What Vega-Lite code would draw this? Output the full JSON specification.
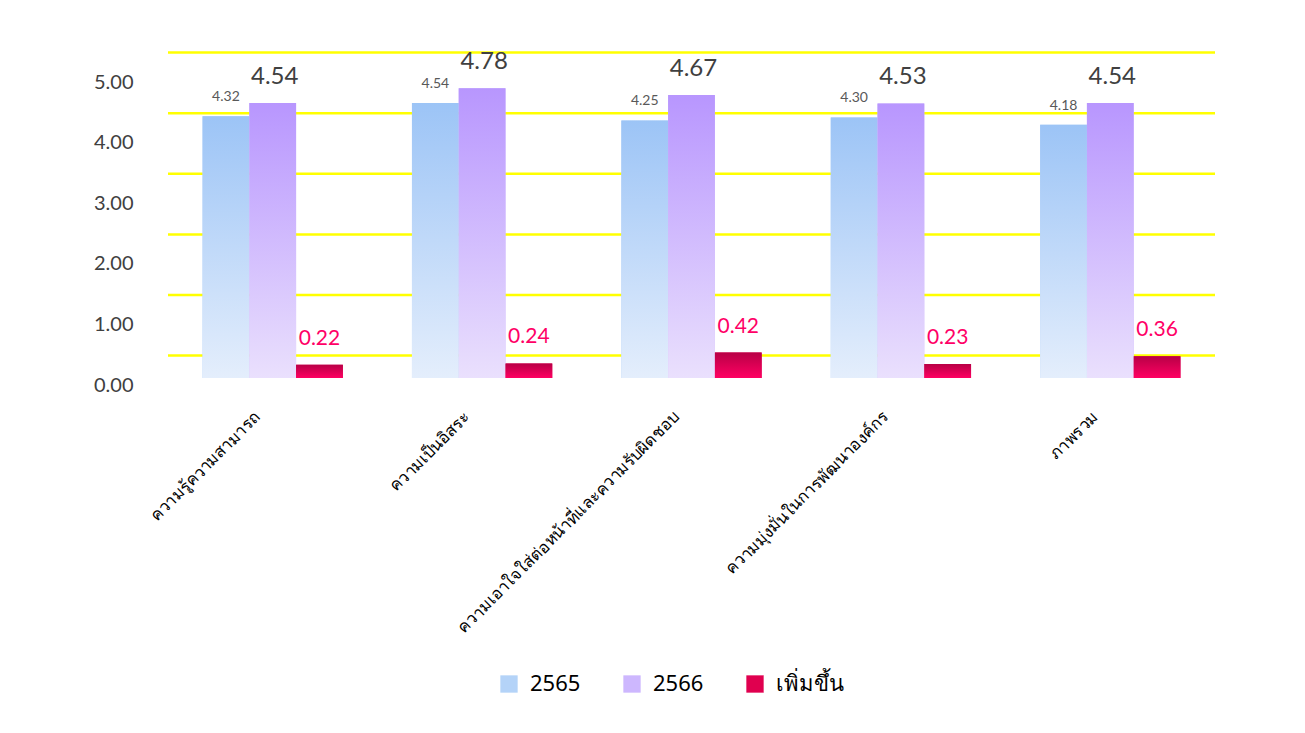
{
  "$schema": "https://vega.github.io/schema/vega-lite/v6.json",
  "autosize": {"type": "none"},
  "width": 1047,
  "height": 303,
  "padding": {"left": 168, "top": 75, "right": 90, "bottom": 355},
  "background": "white",
  "config": {
    "view": {"stroke": null},
    "font": "Lato"
  },
  "datasets": {
    "scores": [
      {"cat": "ความรู้ความสามารถ", "series": "2565", "value": 4.32},
      {"cat": "ความรู้ความสามารถ", "series": "2566", "value": 4.54},
      {"cat": "ความรู้ความสามารถ", "series": "เพิ่มขึ้น", "value": 0.22},
      {"cat": "ความเป็นอิสระ", "series": "2565", "value": 4.54},
      {"cat": "ความเป็นอิสระ", "series": "2566", "value": 4.78},
      {"cat": "ความเป็นอิสระ", "series": "เพิ่มขึ้น", "value": 0.24},
      {"cat": "ความเอาใจใส่ต่อหน้าที่และความรับผิดชอบ", "series": "2565", "value": 4.25},
      {"cat": "ความเอาใจใส่ต่อหน้าที่และความรับผิดชอบ", "series": "2566", "value": 4.67},
      {"cat": "ความเอาใจใส่ต่อหน้าที่และความรับผิดชอบ", "series": "เพิ่มขึ้น", "value": 0.42},
      {"cat": "ความมุ่งมั่นในการพัฒนาองค์กร", "series": "2565", "value": 4.30},
      {"cat": "ความมุ่งมั่นในการพัฒนาองค์กร", "series": "2566", "value": 4.53},
      {"cat": "ความมุ่งมั่นในการพัฒนาองค์กร", "series": "เพิ่มขึ้น", "value": 0.23},
      {"cat": "ภาพรวม", "series": "2565", "value": 4.18},
      {"cat": "ภาพรวม", "series": "2566", "value": 4.54},
      {"cat": "ภาพรวม", "series": "เพิ่มขึ้น", "value": 0.36}
    ],
    "grid": [
      {"level": 0}, {"level": 1}, {"level": 2}, {"level": 3}, {"level": 4}, {"level": 5}
    ]
  },
  "layer": [
    {
      "data": {"name": "grid"},
      "mark": {"type": "rule", "color": "#FFFF00", "strokeWidth": 2.5},
      "encoding": {
        "y": {
          "field": "level", "type": "quantitative",
          "scale": {"domain": [-0.37, 4.63], "nice": false, "zero": false},
          "axis": null
        }
      }
    },
    {
      "data": {"name": "scores"},
      "encoding": {
        "x": {
          "field": "cat", "type": "nominal", "sort": null,
          "scale": {"paddingInner": 0.33, "paddingOuter": 0.165},
          "axis": {
            "title": null, "labelAngle": -45, "labelAlign": "right", "labelBaseline": "middle",
            "labelPadding": 36, "labelOffset": -15, "labelFontSize": 16.5, "labelColor": "#000000", "labelLimit": 400,
            "labelFont": "Noto Sans",
            "domain": false, "ticks": false
          }
        },
        "xOffset": {
          "field": "series", "type": "nominal",
          "scale": {"domain": ["2565", "2566", "เพิ่มขึ้น"], "paddingInner": 0, "paddingOuter": 0}
        },
        "y": {
          "field": "value", "type": "quantitative",
          "scale": {"domain": [0, 5], "nice": false},
          "axis": {
            "title": null, "values": [0, 1, 2, 3, 4, 5], "format": ".2f",
            "labelFontSize": 20, "labelColor": "#404040", "labelPadding": 35, "labelOffset": 7,
            "ticks": false, "domain": false, "grid": false
          }
        }
      },
      "layer": [
        {
          "mark": {"type": "bar"},
          "encoding": {
            "color": {
              "field": "series", "type": "nominal",
              "scale": {
                "domain": ["2565", "2566", "เพิ่มขึ้น"],
                "range": ["#B4D3F8", "#CDB7FE", "#E0004F"]
              },
              "legend": {
                "title": null, "orient": "none", "direction": "horizontal",
                "legendX": 330, "legendY": 598,
                "symbolType": "square", "symbolSize": 300, "symbolStrokeWidth": 0, "symbolOpacity": 1,
                "labelFontSize": 22, "labelFont": "Noto Sans", "labelColor": "#000000", "columnPadding": 40, "labelOffset": 10
              }
            }
          }
        },
        {
          "transform": [{"filter": "datum.series === '2565'"}],
          "mark": {"type": "bar", "color": {"gradient": "linear", "x1": 0, "y1": 0, "x2": 0, "y2": 1, "stops": [{"offset": 0, "color": "#9CC4F6"}, {"offset": 1, "color": "#E4EEFC"}]}}
        },
        {
          "transform": [{"filter": "datum.series === '2566'"}],
          "mark": {"type": "bar", "color": {"gradient": "linear", "x1": 0, "y1": 0, "x2": 0, "y2": 1, "stops": [{"offset": 0, "color": "#B896FE"}, {"offset": 1, "color": "#EAE0FD"}]}}
        },
        {
          "transform": [{"filter": "datum.series === 'เพิ่มขึ้น'"}],
          "mark": {"type": "bar", "color": {"gradient": "linear", "x1": 0, "y1": 0, "x2": 0, "y2": 1, "stops": [{"offset": 0, "color": "#B80046"}, {"offset": 1, "color": "#FF0062"}]}}
        },
        {
          "transform": [{"filter": "datum.series === '2565'"}],
          "mark": {"type": "text", "baseline": "bottom", "dy": -12, "dx": 0, "fontSize": 14, "color": "#595959"},
          "encoding": {"text": {"field": "value", "type": "quantitative", "format": ".2f"}}
        },
        {
          "transform": [{"filter": "datum.series === '2566'"}],
          "mark": {"type": "text", "baseline": "bottom", "dy": -14, "dx": 2, "fontSize": 24, "color": "#404040"},
          "encoding": {"text": {"field": "value", "type": "quantitative", "format": ".2f"}}
        },
        {
          "transform": [{"filter": "datum.series === 'เพิ่มขึ้น'"}],
          "mark": {"type": "text", "baseline": "bottom", "dy": -16, "dx": 0, "fontSize": 21, "color": "#FF0066"},
          "encoding": {"text": {"field": "value", "type": "quantitative", "format": ".2f"}}
        }
      ]
    }
  ],
  "resolve": {"scale": {"y": "independent"}}
}
